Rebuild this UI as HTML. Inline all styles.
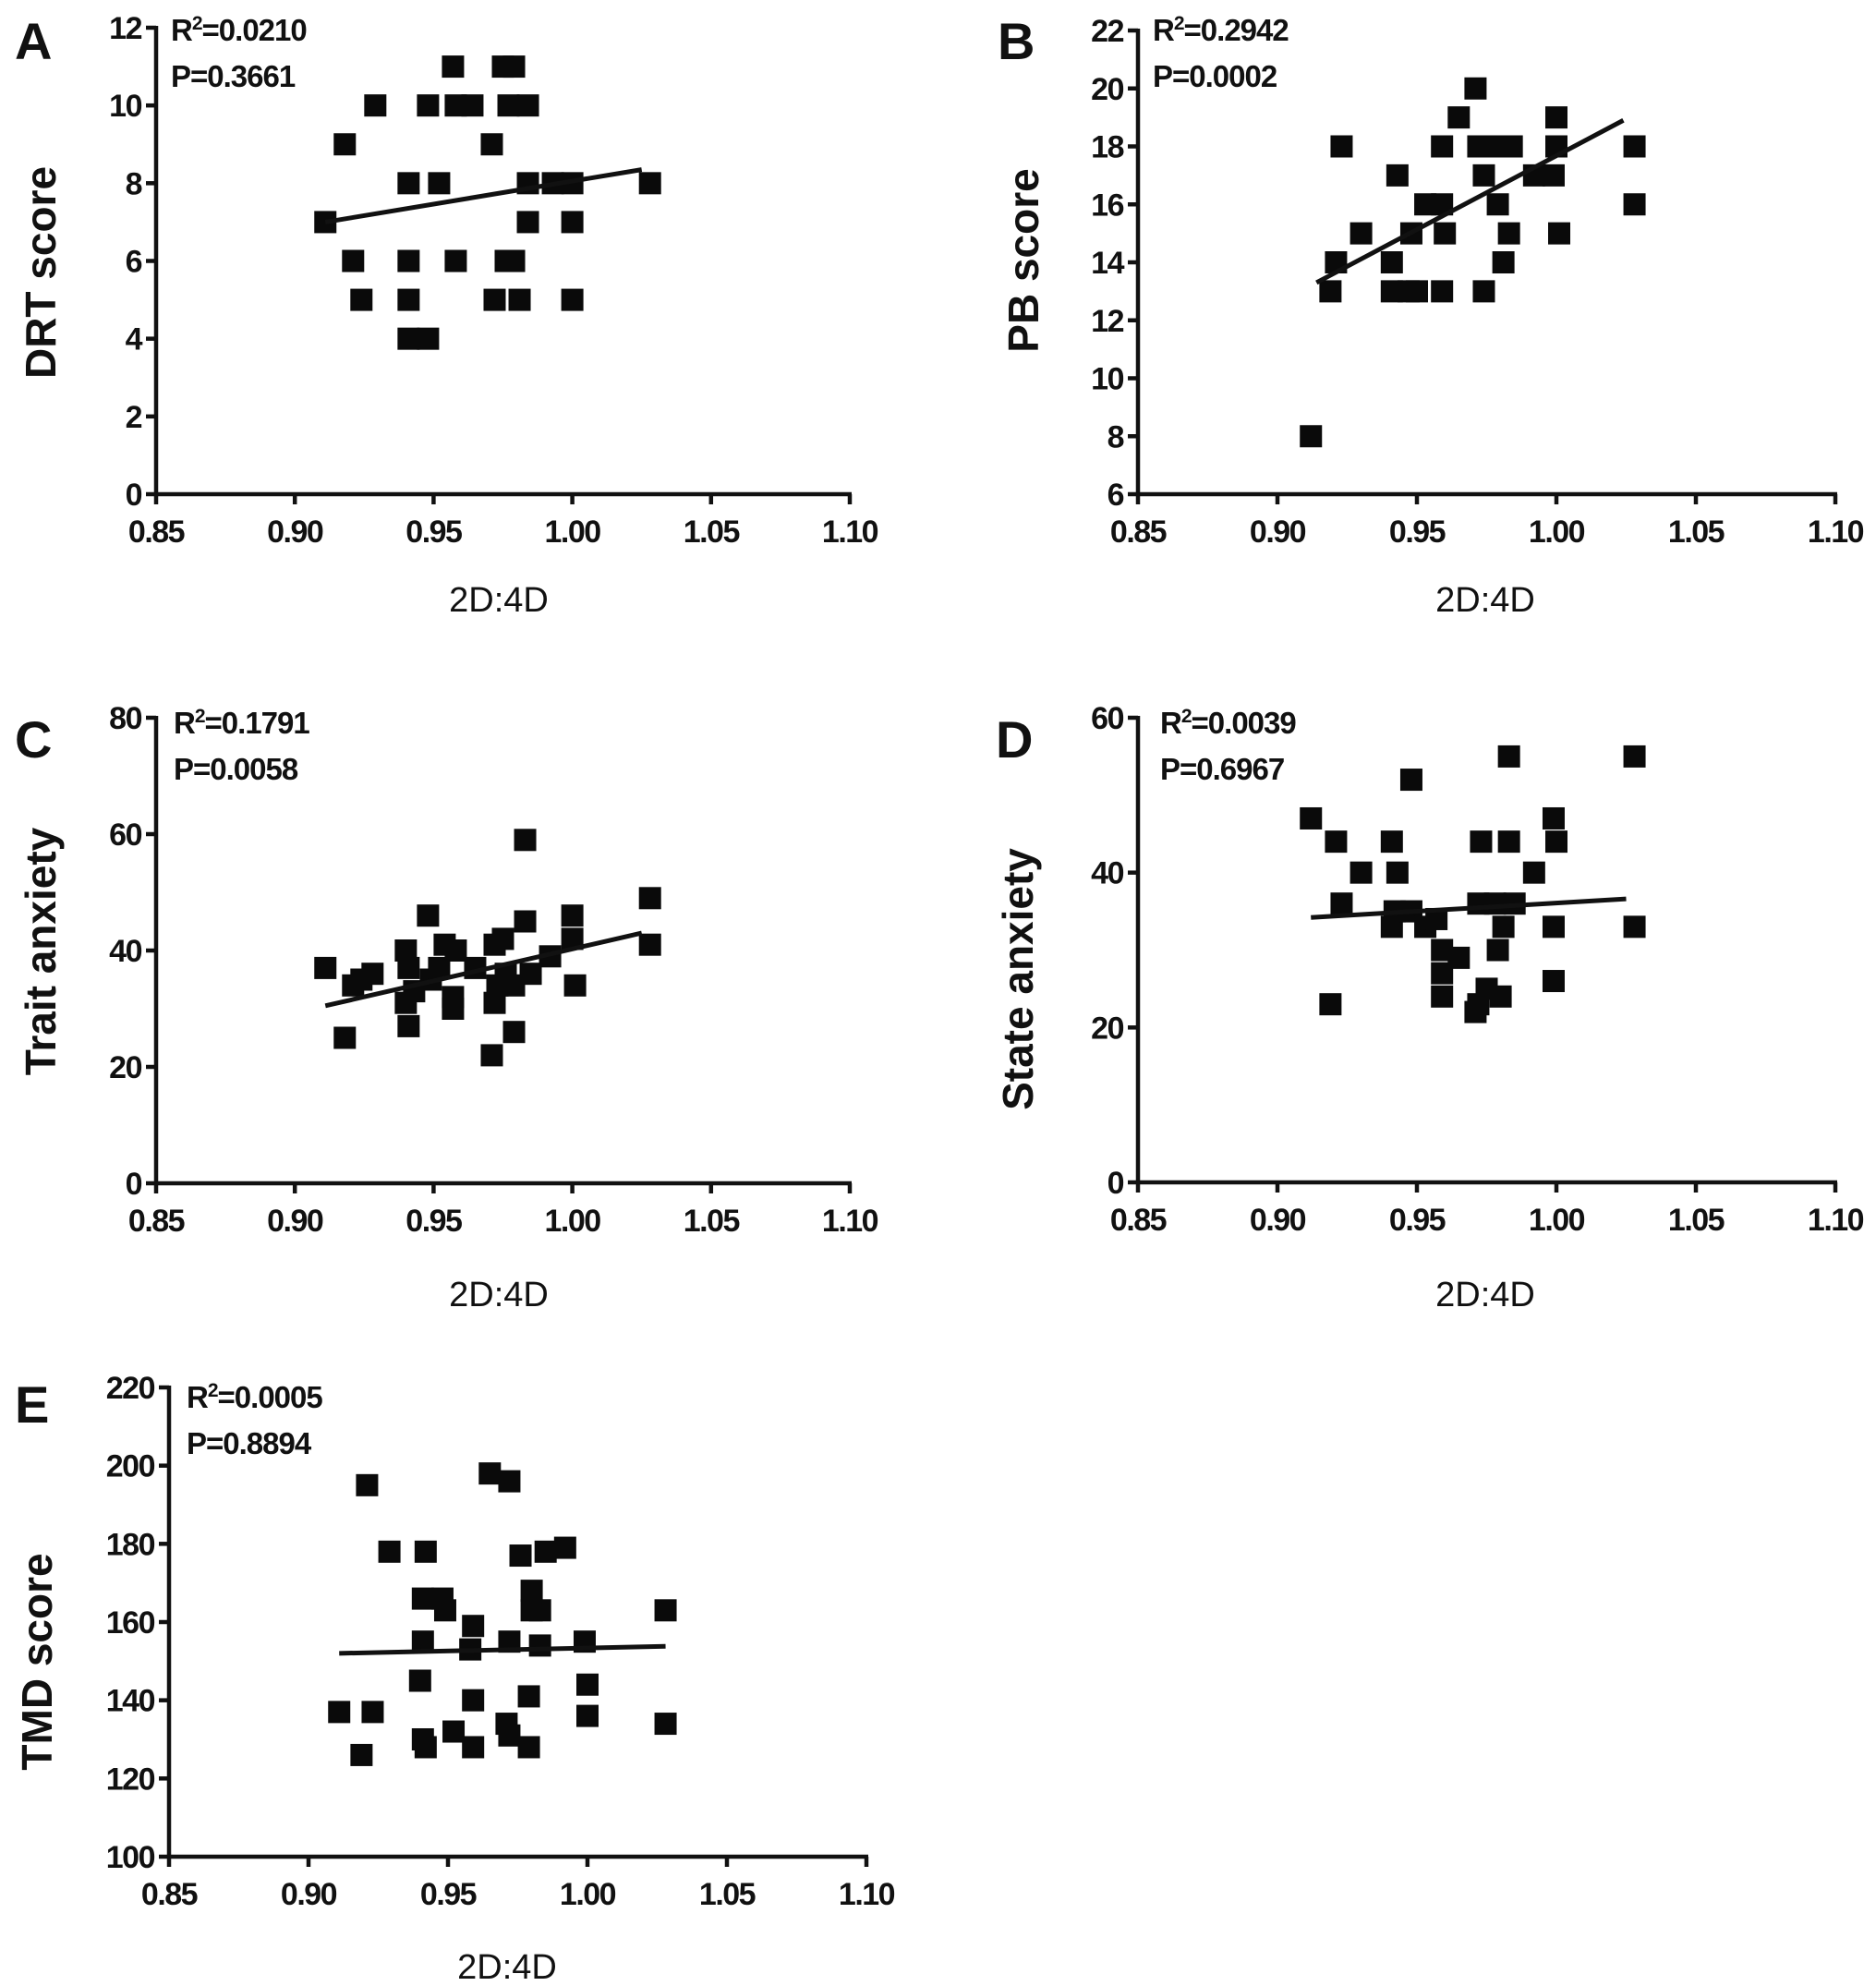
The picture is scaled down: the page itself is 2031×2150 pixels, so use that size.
<!DOCTYPE html>
<html><head><meta charset="utf-8"><style>
html,body{margin:0;padding:0;background:#fff;}
svg{display:block;}
text{font-family:"Liberation Sans Narrow","Liberation Sans",sans-serif;fill:#111;}
.tick{font-size:34px;font-weight:bold;letter-spacing:-1.5px;}
.stat{font-size:33px;font-weight:bold;letter-spacing:-1px;}
.letter{font-family:"Liberation Sans",sans-serif;font-size:56px;font-weight:bold;}
.ytitle{font-family:"Liberation Sans",sans-serif;font-size:46px;font-weight:bold;}
.xtitle{font-family:"Liberation Sans",sans-serif;font-size:38px;}
</style></head><body>
<svg id="fig" width="2031" height="2150" viewBox="0 0 2031 2150"></svg>
<script>
// Panel A: DRT score
const aX=[0.911,0.918,0.921,0.924,0.929,0.941,0.941,0.941,0.941,0.948,0.948,0.952,0.957,0.958,0.958,0.964,0.971,0.972,0.975,0.979,0.976,0.979,0.981,0.977,0.984,0.984,0.984,0.993,1.0,1.0,1.0,1.028];
const aY=[7,9,6,5,10,8,6,5,4,4,10,8,11,6,10,10,9,5,11,11,6,6,5,10,10,8,7,8,8,7,5,8];
const aFit=[[0.911,7.0],[1.025,8.35]];
// Panel B: PB score
const bX=[0.912,0.919,0.921,0.923,0.93,0.941,0.943,0.941,0.947,0.95,0.948,0.953,0.959,0.959,0.959,0.96,0.965,0.971,0.974,0.974,0.972,0.978,0.984,0.979,0.981,0.983,0.992,0.999,1.0,1.0,1.001,1.028,1.028];
const bY=[8,13,14,18,15,14,17,13,13,13,15,16,16,18,13,15,19,20,17,13,18,18,18,16,14,15,17,17,19,18,15,18,16];
const bFit=[[0.914,13.3],[1.024,18.9]];
// Panel C: Trait anxiety
const cX=[0.911,0.918,0.921,0.924,0.928,0.94,0.94,0.941,0.941,0.943,0.948,0.949,0.952,0.954,0.957,0.957,0.958,0.965,0.971,0.972,0.973,0.972,0.975,0.976,0.979,0.979,0.983,0.983,0.985,0.992,1.0,1.0,1.001,1.028,1.028];
const cY=[37,25,34,35,36,40,31,27,37,33,46,35,37,41,30,32,40,37,22,41,34,31,42,36,26,34,59,45,36,39,46,42,34,49,41];
const cFit=[[0.911,30.5],[1.025,43]];
// Panel D: State anxiety
const dX=[0.912,0.919,0.921,0.923,0.93,0.941,0.943,0.941,0.942,0.948,0.948,0.953,0.957,0.959,0.959,0.959,0.965,0.971,0.972,0.972,0.973,0.975,0.978,0.98,0.979,0.981,0.983,0.983,0.985,0.992,0.999,1.0,0.999,0.999,1.028,1.028];
const dY=[47,23,44,36,40,44,40,33,35,52,35,33,34,30,27,24,29,22,23,36,44,25,36,24,30,33,55,44,36,40,47,44,33,26,55,33];
const dFit=[[0.912,34.2],[1.025,36.6]];
// Panel E: TMD score
const eX=[0.911,0.919,0.921,0.923,0.929,0.94,0.941,0.942,0.941,0.942,0.941,0.948,0.949,0.952,0.959,0.958,0.959,0.959,0.965,0.971,0.972,0.972,0.972,0.976,0.979,0.979,0.98,0.98,0.983,0.983,0.985,0.992,0.999,1.0,1.0,1.028,1.028];
const eY=[137,126,195,137,178,145,166,178,155,128,130,166,163,132,159,153,140,128,198,134,196,155,131,177,128,141,168,163,163,154,178,179,155,144,136,163,134];
const eFit=[[0.911,152],[1.028,153.8]];

const xTicks=[0.85,0.90,0.95,1.00,1.05,1.10];
const NS='http://www.w3.org/2000/svg';
const svg=document.getElementById('fig');
function mk(tag,attrs,parent){const e=document.createElementNS(NS,tag);for(const k in attrs)e.setAttribute(k,attrs[k]);(parent||svg).appendChild(e);return e;}

const panels=[
 {id:'a',letter:'A',xs:aX,ys:aY,fit:aFit,x0:169,x1:920,yb:535,yt:30,ymin:0,ymax:12,ystep:2,r2:'0.0210',p:'0.3661',lx:16,ly:64,sx:185,sy:44,ytitle:'DRT score',ytx:60,yty:295,xtx:540,xty:662},
 {id:'b',letter:'B',xs:bX,ys:bY,fit:bFit,x0:1232,x1:1987,yb:535,yt:33,ymin:6,ymax:22,ystep:2,r2:'0.2942',p:'0.0002',lx:1080,ly:64,sx:1248,sy:44,ytitle:'PB  score',ytx:1124,yty:282,xtx:1608,xty:662},
 {id:'c',letter:'C',xs:cX,ys:cY,fit:cFit,x0:169,x1:920,yb:1281,yt:777,ymin:0,ymax:80,ystep:20,r2:'0.1791',p:'0.0058',lx:16,ly:820,sx:188,sy:794,ytitle:'Trait  anxiety',ytx:60,yty:1030,xtx:540,xty:1414},
 {id:'d',letter:'D',xs:dX,ys:dY,fit:dFit,x0:1232,x1:1987,yb:1280,yt:777,ymin:0,ymax:60,ystep:20,r2:'0.0039',p:'0.6967',lx:1078,ly:820,sx:1256,sy:794,ytitle:'State anxiety',ytx:1118,yty:1060,xtx:1608,xty:1414},
 {id:'e',letter:'E',xs:eX,ys:eY,fit:eFit,x0:183,x1:938,yb:2010,yt:1502,ymin:100,ymax:220,ystep:20,r2:'0.0005',p:'0.8894',lx:16,ly:1540,sx:202,sy:1524,ytitle:'TMD score',ytx:56,yty:1799,xtx:549,xty:2142}
];

panels.forEach(P=>{
 const g=mk('g',{});
 
 
 const sx=v=>P.x0+(v-0.85)/(1.10-0.85)*(P.x1-P.x0);
 const sy=v=>P.yb-(v-P.ymin)/(P.ymax-P.ymin)*(P.yb-P.yt);
 const ya=mk('line',{x1:P.x0,y1:P.yt-2,x2:P.x0,y2:P.yb+2,stroke:'#111','stroke-width':4.5},g);
 
 
 const xa=mk('line',{x1:P.x0-2,y1:P.yb,x2:P.x1+2,y2:P.yb,stroke:'#111','stroke-width':4.5},g);
 
 
 for(let v=P.ymin;v<=P.ymax+1e-9;v+=P.ystep){
  const y=sy(v);
  mk('line',{x1:P.x0-11,y1:y,x2:P.x0,y2:y,stroke:'#111','stroke-width':4.5},g);
  const t=mk('text',{x:P.x0-16,y:y+12,'text-anchor':'end',class:'tick'},g);
  t.textContent=String(v);
  
  
 }
 xTicks.forEach(v=>{
  const x=sx(v);
  mk('line',{x1:x,y1:P.yb,x2:x,y2:P.yb+11,stroke:'#111','stroke-width':4.5},g);
  const t=mk('text',{x:x,y:P.yb+52,'text-anchor':'middle',class:'tick'},g);
  t.textContent=v.toFixed(2);
  
  
 });
 for(let i=0;i<P.xs.length;i++){
  const r=mk('rect',{x:sx(P.xs[i])-12,y:sy(P.ys[i])-12,width:24,height:24,fill:'#0a0a0a'},g);
  
  
 }
 const fl=mk('line',{x1:sx(P.fit[0][0]),y1:sy(P.fit[0][1]),x2:sx(P.fit[1][0]),y2:sy(P.fit[1][1]),stroke:'#111','stroke-width':5},g);
 
 
 const L=mk('text',{x:P.lx,y:P.ly,class:'letter'},g);
 L.textContent=P.letter;
 
 
 const r2=mk('text',{x:P.sx,y:P.sy,class:'stat'},g);
 r2.innerHTML='R<tspan dy="-12" font-size="21">2</tspan><tspan dy="12">='+P.r2+'</tspan>';
 
 
 const pt=mk('text',{x:P.sx,y:P.sy+50,class:'stat'},g);
 pt.textContent='P='+P.p;
 
 
 const yt=mk('text',{x:P.ytx,y:P.yty,'text-anchor':'middle',class:'ytitle',transform:'rotate(-90 '+P.ytx+' '+P.yty+')'},g);
 yt.textContent=P.ytitle;
 
 
 const xt=mk('text',{x:P.xtx,y:P.xty,'text-anchor':'middle',class:'xtitle'},g);
 xt.textContent='2D:4D';
 
 
});
</script>
</body></html>
